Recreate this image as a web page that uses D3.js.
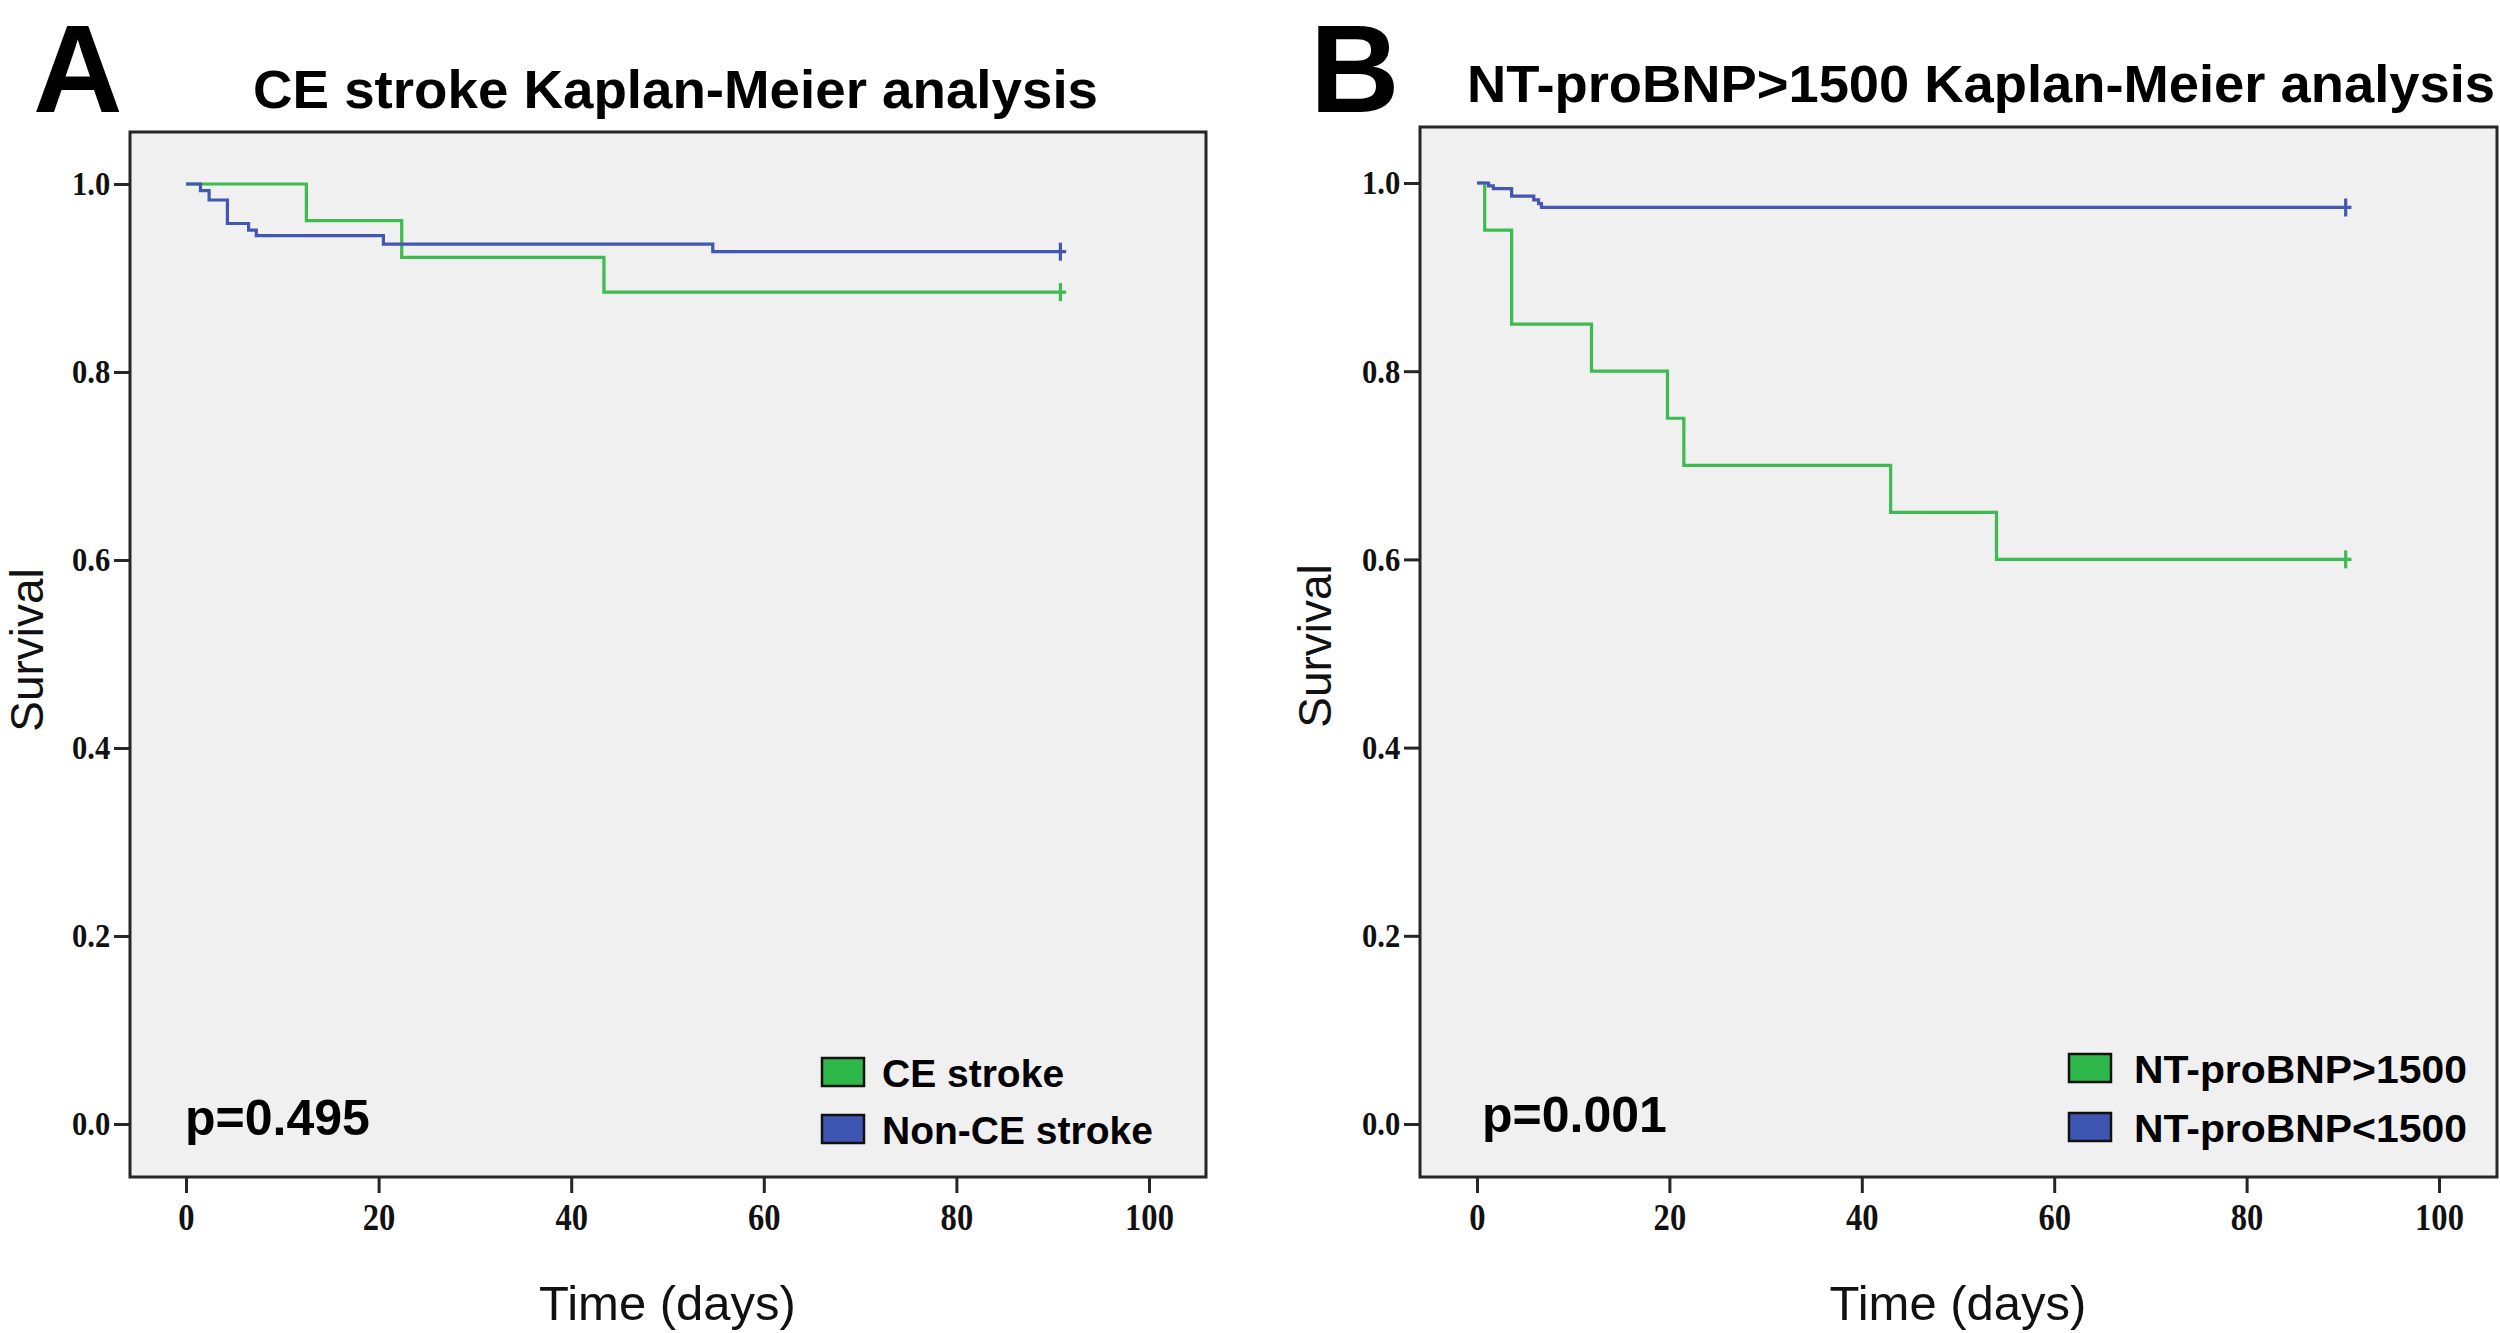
<!DOCTYPE html>
<html>
<head>
<meta charset="utf-8">
<script src="https://cdn.jsdelivr.net/npm/d3@7"></script>
<style>
  html, body { margin: 0; padding: 0; background: #ffffff; }
  svg { display: block; }
</style>
</head>
<body>
<svg id="chart" width="2500" height="1333"></svg>
<script>
// ---------------- DATA ----------------
const xTicks = [0, 20, 40, 60, 80, 100];
const yTicks = [0.0, 0.2, 0.4, 0.6, 0.8, 1.0];

// Panel A: CE stroke vs Non-CE stroke
const titleA = "CE stroke Kaplan-Meier analysis";
const pValueA = "p=0.495";
const legendA = ["CE stroke", "Non-CE stroke"];
const ceTimes = [0, 12.5, 22.4, 43.4];
const ceSurv  = [1.0, 0.961, 0.922, 0.885];
const ceCensor = 90.8;
const nonCeTimes = [0, 1.5, 2.4, 4.3, 6.5, 7.3, 20.5, 54.7];
const nonCeSurv  = [1.0, 0.993, 0.983, 0.958, 0.951, 0.945, 0.936, 0.928];
const nonCeCensor = 90.8;

// Panel B: NT-proBNP>1500 vs NT-proBNP<1500
const titleB = "NT-proBNP>1500 Kaplan-Meier analysis";
const pValueB = "p=0.001";
const legendB = ["NT-proBNP>1500", "NT-proBNP<1500"];
const highTimes = [0, 0.8, 3.6, 11.9, 19.8, 21.5, 43.0, 54.0];
const highSurv  = [1.0, 0.95, 0.85, 0.80, 0.75, 0.70, 0.65, 0.60];
const highCensor = 90.3;
const lowTimes = [0, 1.2, 1.7, 3.6, 5.9, 6.4, 6.7];
const lowSurv  = [1.0, 0.997, 0.994, 0.986, 0.982, 0.978, 0.974];
const lowCensor = 90.3;

// ---------------- STYLE ----------------
const GREEN = "#3cbb4e";
const BLUE = "#4257b3";
const GREEN_FILL = "#2fb84a";
const BLUE_FILL = "#3e56b2";
const SANS = "'Liberation Sans', Arial, Helvetica, sans-serif";
const SERIF = "'Liberation Serif', 'Times New Roman', serif";

const svg = d3.select("#chart");

const panels = [
  {
    letter: "A", letterX: 33, letterY: 112,
    title: titleA, titleX: 253, titleY: 108, titleSize: 53, titleLen: 845,
    box: {x0: 130, y0: 132, x1: 1206, y1: 1177},
    xr: [186, 1149], yr: [1124, 184],
    p: pValueA, pX: 185, pY: 1135,
    legend: legendA, legTextX: 882, legRectX: 822, legLen: null, legBase: [1087, 1144],
    survX: 43, survY: 650,
    series: [
      {t: ceTimes, s: ceSurv, c: ceCensor, color: GREEN},
      {t: nonCeTimes, s: nonCeSurv, c: nonCeCensor, color: BLUE}
    ]
  },
  {
    letter: "B", letterX: 1310, letterY: 112,
    title: titleB, titleX: 1467, titleY: 102, titleSize: 51, titleLen: 1028,
    box: {x0: 1420, y0: 127, x1: 2497, y1: 1177},
    xr: [1477, 2439], yr: [1124, 183],
    p: pValueB, pX: 1482, pY: 1132,
    legend: legendB, legTextX: 2134, legRectX: 2069, legLen: 333, legBase: [1083, 1142],
    survX: 1331, survY: 646,
    series: [
      {t: highTimes, s: highSurv, c: highCensor, color: GREEN},
      {t: lowTimes, s: lowSurv, c: lowCensor, color: BLUE}
    ]
  }
];

const legendFills = [GREEN_FILL, BLUE_FILL];

panels.forEach(P => {
  const g = svg.append("g");
  const x = d3.scaleLinear().domain([0, 100]).range(P.xr);
  const y = d3.scaleLinear().domain([0, 1]).range(P.yr);

  // panel letter
  g.append("text")
    .attr("x", P.letterX).attr("y", P.letterY)
    .attr("font-family", SANS).attr("font-weight", "bold")
    .attr("font-size", 124).attr("fill", "#000")
    .text(P.letter);

  // title
  g.append("text")
    .attr("x", P.titleX).attr("y", P.titleY)
    .attr("font-family", SANS).attr("font-weight", "bold")
    .attr("font-size", P.titleSize).attr("fill", "#000")
    .attr("textLength", P.titleLen).attr("lengthAdjust", "spacingAndGlyphs")
    .text(P.title);

  // plot box
  g.append("rect")
    .attr("x", P.box.x0).attr("y", P.box.y0)
    .attr("width", P.box.x1 - P.box.x0).attr("height", P.box.y1 - P.box.y0)
    .attr("fill", "#f0f0f0").attr("stroke", "#262626").attr("stroke-width", 3);

  // axes
  const xAxis = d3.axisBottom(x).tickValues(xTicks).tickSize(16).tickPadding(11)
    .tickFormat(d3.format("d"));
  const gx = g.append("g").attr("transform", `translate(0,${P.box.y1})`).call(xAxis);
  gx.select(".domain").remove();
  gx.selectAll(".tick line").attr("stroke", "#262626").attr("stroke-width", 3);
  gx.selectAll(".tick text")
    .attr("font-family", SERIF).attr("font-weight", "bold").attr("font-size", 37)
    .attr("fill", "#111").attr("transform", "scale(0.88,1)");

  const yAxis = d3.axisLeft(y).tickValues(yTicks).tickSize(16).tickPadding(6)
    .tickFormat(d3.format(".1f"));
  const gy = g.append("g").attr("transform", `translate(${P.box.x0},0)`).call(yAxis);
  gy.select(".domain").remove();
  gy.selectAll(".tick line").attr("stroke", "#262626").attr("stroke-width", 3);
  gy.selectAll(".tick text")
    .attr("font-family", SERIF).attr("font-weight", "bold").attr("font-size", 34)
    .attr("fill", "#111").attr("transform", "scale(0.9,1)");

  // axis titles
  g.append("text")
    .attr("transform", `translate(${P.survX},${P.survY}) rotate(-90)`)
    .attr("text-anchor", "middle")
    .attr("font-family", SANS).attr("font-size", 46).attr("fill", "#111")
    .text("Survival");
  g.append("text")
    .attr("x", x(50)).attr("y", 1320)
    .attr("text-anchor", "middle")
    .attr("font-family", SANS).attr("font-size", 49).attr("fill", "#111")
    .text("Time (days)");

  // survival curves
  const line = d3.line().x(d => x(d[0])).y(d => y(d[1])).curve(d3.curveStepAfter);
  P.series.forEach(S => {
    const pts = S.t.map((t, i) => [t, S.s[i]]);
    const last = S.s[S.s.length - 1];
    pts.push([S.c + 0.6, last]);
    g.append("path")
      .attr("d", line(pts))
      .attr("fill", "none").attr("stroke", S.color).attr("stroke-width", 3.2)
      .attr("stroke-linejoin", "miter");
    // censor mark
    g.append("line")
      .attr("x1", x(S.c)).attr("x2", x(S.c))
      .attr("y1", y(last) - 9).attr("y2", y(last) + 9)
      .attr("stroke", S.color).attr("stroke-width", 3.2);
  });

  // p value
  g.append("text")
    .attr("x", P.pX).attr("y", P.pY)
    .attr("font-family", SANS).attr("font-weight", "bold")
    .attr("font-size", 50).attr("fill", "#000")
    .text(P.p);

  // legend
  P.legend.forEach((lab, i) => {
    const base = P.legBase[i];
    g.append("rect")
      .attr("x", P.legRectX).attr("y", base - 29)
      .attr("width", 42).attr("height", 28)
      .attr("fill", legendFills[i]).attr("stroke", "#111").attr("stroke-width", 2.5);
    const t = g.append("text")
      .attr("x", P.legTextX).attr("y", base)
      .attr("font-family", SANS).attr("font-weight", "bold")
      .attr("font-size", 39).attr("fill", "#000")
      .text(lab);
    if (P.legLen) t.attr("textLength", P.legLen).attr("lengthAdjust", "spacingAndGlyphs");
  });
});
</script>
</body>
</html>
